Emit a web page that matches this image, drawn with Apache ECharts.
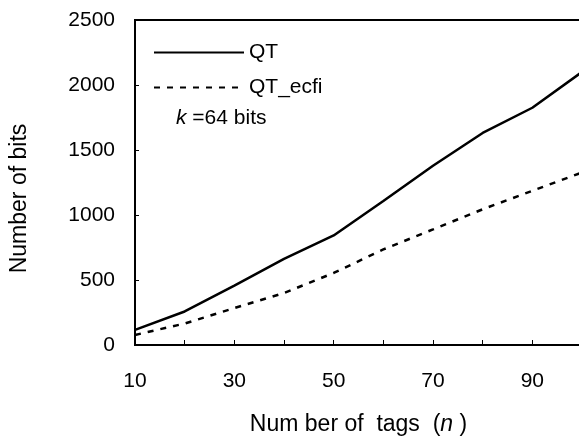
<!DOCTYPE html>
<html>
<head>
<meta charset="utf-8">
<script src="https://cdn.jsdelivr.net/npm/echarts@6/dist/echarts.min.js"></script>
<style>
  html, body { margin: 0; padding: 0; background: #fff; }
  #main { width: 579px; height: 446px; }
</style>
</head>
<body>
<div id="main"></div>
<script>
const tagCounts = [10, 20, 30, 40, 50, 60, 70, 80, 90, 100];
const qtBits = [116, 258, 456, 662, 843, 1108, 1379, 1631, 1825, 2100];
const qtEcfiBits = [77, 165, 284, 400, 554, 735, 889, 1044, 1186, 1327];
const xLabelTicks = [10, 30, 50, 70, 90];

const font = "'Liberation Sans', Arial, sans-serif";
const chart = echarts.init(document.getElementById("main"));

const option = {
  animation: false,
  textStyle: { fontFamily: font, color: "#000" },
  grid: {
    left: 135,
    top: 20,
    right: -3,
    bottom: 101,
    outerBoundsMode: "none",
    show: true,
    borderColor: "#000",
    borderWidth: 2,
  },
  legend: {
    orient: "vertical",
    left: 153,
    top: 42,
    padding: 0,
    itemWidth: 90,
    itemHeight: 14,
    itemGap: 14,
    itemStyle: { color: "transparent", borderWidth: 0 },
    textStyle: { fontSize: 21, color: "#000", fontFamily: font },
    data: ["QT", "QT_ecfi"],
  },
  graphic: [
    {
      type: "text",
      left: 176,
      top: 108,
      style: {
        text: "{i|k} =64 bits",
        fontSize: 21,
        fontFamily: font,
        fill: "#000",
        rich: { i: { fontStyle: "italic", fontSize: 21, fontFamily: font } },
      },
    },
  ],
  xAxis: {
    type: "value",
    min: 10,
    max: 100,
    interval: 10,
    name: "Num ber of  tags  ({i|n} )",
    nameLocation: "middle",
    nameGap: 68,
    nameMoveOverlap: false,
    nameTextStyle: {
      fontSize: 23,
      color: "#000",
      rich: { i: { fontStyle: "italic", fontSize: 23, fontFamily: font, color: "#000" } },
    },
    axisLine: { show: true, lineStyle: { color: "#000", width: 2 } },
    axisTick: { show: true, inside: true, length: 5, lineStyle: { color: "#000", width: 1 } },
    axisLabel: {
      fontSize: 21,
      color: "#000",
      margin: 26,
      formatter: function (v) {
        return xLabelTicks.indexOf(v) >= 0 ? String(v) : "";
      },
    },
    splitLine: { show: false },
  },
  yAxis: {
    type: "value",
    min: 0,
    max: 2500,
    interval: 500,
    name: "Number of bits",
    nameLocation: "middle",
    nameGap: 104,
    nameMoveOverlap: false,
    nameTextStyle: { fontSize: 23, color: "#000", padding: [0, 32, 0, 0] },
    axisLine: { show: true, lineStyle: { color: "#000", width: 2 } },
    axisTick: { show: true, inside: true, length: 4, lineStyle: { color: "#000", width: 1 } },
    axisLabel: {
      fontSize: 21,
      color: "#000",
      margin: 20,
      formatter: function (v) {
        return String(v);
      },
    },
    splitLine: { show: false },
  },
  series: [
    {
      name: "QT",
      type: "line",
      symbol: "none",
      data: tagCounts.map((x, i) => [x, qtBits[i]]),
      lineStyle: { color: "#000", width: 2.5, type: "solid" },
      itemStyle: { color: "#000" },
    },
    {
      name: "QT_ecfi",
      type: "line",
      symbol: "none",
      data: tagCounts.map((x, i) => [x, qtEcfiBits[i]]),
      lineStyle: { color: "#000", width: 2.5, type: [6, 7] },
      itemStyle: { color: "#000" },
    },
  ],
};

chart.setOption(option);
</script>
</body>
</html>
